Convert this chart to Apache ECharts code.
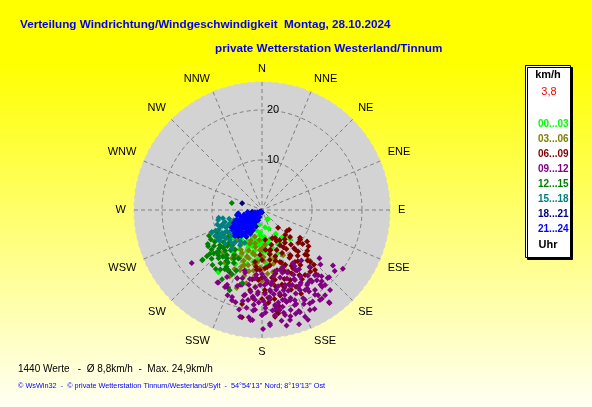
<!DOCTYPE html>
<html>
<head>
<meta charset="utf-8">
<script src="https://cdn.jsdelivr.net/npm/echarts@6/dist/echarts.min.js"></script>
<style>html,body{margin:0;padding:0;}#c{width:592px;height:407px;}</style>
</head>
<body>
<div id="c"></div>
<script>
// ---- data ----
const directions = ['N','NNE','NE','ENE','E','ESE','SE','SSE','S','SSW','SW','WSW','W','WNW','NW','NNW'];
const radiusTicks = [10, 20];
const seriesNames = ['00...03','03...06','06...09','09...12','12...15','15...18','18...21','21...24'];
const titleLine1 = 'Verteilung Windrichtung/Windgeschwindigkeit  Montag, 28.10.2024';
const titleLine2 = 'private Wetterstation Westerland/Tinnum';
const unitLabel = 'km/h';
const calmValue = '3,8';
const hourLabel = 'Uhr';
const statsText = '1440 Werte   -  Ø 8,8km/h  -  Max. 24,9km/h';
const footerText = '© WsWin32  -  © private Wetterstation Tinnum/Westerland/Sylt  -  54°54\'13\'\' Nord; 8°19\'13\'\' Ost';

// [speed km/h, direction deg]
const h00_03 = [[2.1,151],[5.4,178],[6.0,165],[15.2,215],[8.1,136],[5.5,150],[7.0,185],[7.5,195],[8.0,200],[6.5,190],[8.5,180],[9.0,192],[9.5,205],[10.0,198],[7.8,210],[6.8,205],[5.8,195],[4.5,185],[3.5,170],[4.0,160],[6.2,172],[7.2,175],[8.8,170],[9.8,185],[10.5,190],[11.0,200],[11.5,210],[12.0,206],[10.2,215],[8.6,220],[9.2,160],[7.6,155],[6.8,145],[10.8,175],[12.5,195],[13.0,215],[9.4,225],[11.8,220],[3.0,190],[4.8,205],[5.2,215],[6.0,225],
  [5.0,185],[5.6,200],[6.4,180],[7.0,195],[7.4,205],[8.2,190],[8.8,200],[9.0,210],[6.6,170],[7.8,165],[8.4,175],[9.6,180],[10.0,205],[10.6,185],[11.2,195],[7.2,215],[8.0,225],[6.2,212],[5.4,175],[4.2,195],[9.8,170],[6.0,155],[7.0,140],[8.6,150],
  [2.2,146],[5.7,151],[7.5,151]];
const h03_06 = [[13.6,137],[16.4,198],[11.7,222],[12.8,215],[9.1,189],[8.0,180],[10.0,195],[11.0,188],[12.0,200],[9.5,205],[10.5,210],[8.5,198],[7.5,190],[7.0,175],[9.0,170],[10.2,178],[11.5,182],[12.5,192],[13.0,205],[8.0,212],[6.5,200],[6.0,185],[11.0,168],[12.8,175],[14.0,188],[14.5,200],[10.8,200],[9.6,215],[7.8,220],[13.8,210],[12.0,160],[10.0,155],[5.5,195],[15.0,192],[11.4,194],
  [9.7,198],[8.0,183],[11.1,172],[12.8,200],[13.1,186],[8.8,192],[9.4,178],[10.4,185],[11.8,178],[12.2,188],[10.6,205],[11.4,212],[13.6,195],[14.2,180],[9.0,208],[7.2,200],[8.4,170],[10.0,165],[12.6,170],[15.4,185],[14.8,206],[11.6,198],[6.8,192],[7.6,180]];
const h06_09 = [[11.0,125],[7.8,134],[6.5,130],[6.7,126],[11.0,139],[20.9,171],[21.8,190.6],[18.0,172],[15.0,150],[16.0,138.5],[15.1,136.6],[15.7,142],[19.2,192],[17.7,186],[20.3,172],[19.5,170],[21.5,173],[6.0,160],[7.0,150],[8.0,145],[8.5,160],[9.0,170],[9.5,155],[10.0,140],[10.5,165],[11.0,150],[11.5,175],[12.0,158],[12.5,145],[13.0,168],[13.5,180],[14.0,155],[14.5,162],[15.0,140],[15.5,170],[16.0,150],[16.5,178],[17.0,160],[12.0,185],[10.0,180],[14.0,188],[8.0,175],[9.8,132],[12.8,135],[11.8,128],[16.8,140],[18.5,155],[19.0,165],[7.2,165],[9.2,148],[13.2,152],[15.8,160],[17.5,168],[14.8,172],[11.2,160],
  [7.9,152.8],[10.4,140],[11.9,157],[10.1,171],[13.4,145],[15.1,158],[14.2,169.5],[12.0,182],[16.0,178],[17.4,168],[15.6,146.5],[9.0,140],[8.6,150],[10.8,148],[11.6,142],[12.6,152],[13.0,160],[12.4,166],[11.2,172],[9.6,164],[8.2,168],[14.0,150],[13.6,138],[12.2,132],[10.6,130],[9.4,126],[14.6,176],[16.2,164],[18.6,176],[17.8,180],[16.8,156],[15.4,165],[7.4,142],[6.8,155],[11.4,186],[13.8,184],
  [6.0,174],[6.2,155],[6.8,137],[9.7,128],[9.0,182.5],[8.2,169],[10.6,148],[12.4,136],[11.0,161],[12.3,147.6],[14.2,137],[11.6,177],[13.4,157],[15.1,150],[13.7,171.6],[15.7,163],[14.0,183],[16.2,188.5],[17.6,176],[4.8,138],[10.5,187.7]];
const h09_12 = [[17.6,233],[20.0,126],[19.0,130],[19.0,135],[22.8,144],[25.7,163],[23.8,179.5],[22.1,186],[21.8,191.6],[18.4,202],[16.9,211],[18.4,199],[19.8,189],[20.9,151],[13.0,150],[13.5,158],[14.0,165],[14.5,172],[15.0,178],[15.5,185],[16.0,160],[16.5,152],[17.0,168],[17.5,175],[18.0,158],[18.5,182],[19.0,165],[19.5,172],[20.0,160],[20.5,178],[21.0,168],[14.0,148],[15.2,155],[16.2,170],[17.2,145],[18.2,150],[12.5,168],[13.0,185],[14.0,190],[15.5,195],[16.5,188],[17.5,192],[12.2,160],[13.5,178],[15.8,163],[16.8,178],[18.8,170],[19.5,155],[21.5,160],[20.2,185],[22.5,170],[14.8,140],[16.0,133],[17.8,138],[19.5,142],[15.0,130],[18.0,128],[12.8,142],[13.0,195],[14.5,200],[16.0,198],[17.0,155],[18.5,162],[20.0,148],[21.0,153],[23.0,158],[16.5,205],[14.0,208],[17.0,211.6],[17.1,205.7],[15.1,207.6],[17.0,203.5],[22.1,185],[18.9,136],[18.6,140],[16.8,141],[17.3,148],[20.4,146.6],[23.0,144],[17.5,149],[12.3,150],[12.5,163],
  [17.6,165],[17.7,154.6],[18.0,175],[17.0,145.6],[15.0,181.5],[20.8,164],[21.2,173],[18.0,184.5],[13.7,151],[19.0,142],[16.2,158],[17.0,162],[18.4,167],[19.2,160],[19.8,168],[20.2,174],[16.4,174],[15.6,168],[14.6,160],[15.4,150],[18.8,150],[19.6,178],[21.0,180],[22.0,165],[20.6,156],[16.8,183],[14.2,176],[13.4,170],[12.8,180],[15.2,190],[17.4,186],[18.6,192],[19.2,196],[16.0,145],[17.8,142],[21.4,146],[22.4,152],[24.0,162],[23.6,168],[22.8,176],[21.6,187],[20.4,193],[13.8,186],[12.6,196],[14.2,196],[17.0,172],[18.2,179],[19.0,185],[20.0,172],[21.8,162],[15.0,173],[16.6,165],[13.2,162],[14.4,154],
  [19.0,178],[20.3,170],[20.1,161],[19.9,154.5],[19.2,146.5],[19.6,140],[22.7,165.7],[23.1,176],[20.0,184],[17.3,191.3],[16.8,153],[18.6,165.7],[22.2,154.4],[21.4,147.2],
  [18.2,151.7],[17.5,145.2],[21.2,143.5],[18.9,162.7],[19.2,172.2],[21.0,180],[21.5,167.6],[21.8,159.6],[18.2,188.8],[15.6,196.3],[16.1,174.3],[17.2,139.3],[15.5,154.8],[16.4,182.8],[19.0,198.4],[23.8,157.3],[21.0,139.6]];
const h12_15 = [[6.2,283],[15.6,230],[10.7,241],[15.5,230],[12.3,227],[13.8,209],[11.9,216],[12.5,213],[11.0,222],[10.0,230],[10.5,235],[9.5,225],[12.0,233],[13.0,222],[11.5,228],[9.0,238],[13.5,218],[14.0,226],[12.8,238],[10.2,218],[11.2,210],[15.1,195],[17.3,202],[14.5,215],[13.2,203],[9.8,245],[11.8,244],[12.8,232],[14.8,222],[10.8,226],[8.5,232],[9.3,220],[16.0,210],[12.2,220],[13.6,230],[11.4,236],[10.6,212],[14.2,205],
  [11.0,230],[10.0,224],[12.6,224],[13.4,212],[12.0,208],[11.4,218],[10.4,238],[9.2,232],[13.0,236],[14.4,230],[11.8,240],[12.4,215],[10.8,206],[9.6,214],[15.0,218],[14.0,212],[13.0,228],[10.0,242],[11.0,246],[12.0,226]];
const h15_18 = [[9.0,257],[5.1,259],[9.8,239],[10.4,234],[7.4,246],[8.8,227],[8.3,212],[8.6,239],[5.0,223],[7.0,231],[6.0,250],[6.5,240],[7.8,236],[8.0,244],[9.2,232],[7.2,222],[6.2,228],[5.6,236],[8.4,250],[9.5,245],[7.6,215],[6.8,255],[5.8,245],[10.0,228],[9.0,222],[7.0,240],[8.0,230],[6.6,218],[4.6,248],[10.6,241],[9.4,252],[8.8,260],[11.0,246],[7.4,208],[9.8,218],
  [6.4,236],[7.2,244],[7.6,228],[8.2,238],[8.6,248],[9.2,240],[6.0,232],[5.4,242],[7.0,225],[8.4,220],[9.6,236],[10.2,246],[6.8,248],[7.8,252],[9.0,248],[5.6,228],[8.0,258],[10.6,236]];
const h18_21 = [[4.2,289],[2.0,260],[3.0,215],[4.0,210],[5.0,208],[5.5,215],[6.0,218],[4.5,222],[3.5,200],[6.5,220],[2.5,205],[1.5,200],[0.5,180],[5.8,235],[7.0,222],[6.2,210],[5.2,212],[4.6,205],[3.8,210]];
const h21_24 = [[0.3,220],[0.6,232],[0.9,214],[1.0,242],[1.2,226],[1.4,208],[1.6,236],[1.8,220],[2.0,248],[2.1,212],[2.3,230],[2.5,240],[2.6,220],[2.8,252],[3.0,228],[3.1,210],[3.3,244],[3.4,234],[3.5,221],[3.7,256],[3.8,230],[4.0,217],[4.0,247],[4.2,238],[4.3,225],[4.5,253],[4.6,232],[4.7,212],[4.9,243],[5.0,222],[5.1,258],[5.2,236],[5.4,228],[5.5,249],[5.6,216],[5.8,240],[5.9,231],[6.0,223],[6.2,245],[6.3,235],[6.5,227],[6.7,238],[6.9,231],[7.2,229],[7.5,226],[5.3,206],[4.4,204],[6.1,212],[3.6,207],[2.9,262],[4.8,262],[1.5,250],[2.2,200],[6.6,219],[7.0,240],
  [1.0,225],[2.4,225],[2.7,235],[3.2,218],[3.9,240],[4.1,230],[4.5,238],[4.8,228],[5.0,246],[5.3,232],[5.7,226],[6.1,234],[6.4,241],[6.8,226],[7.1,235],[3.0,250],[3.6,246],[4.4,216],[5.6,240],[2.0,236]];
const seriesData = [h00_03, h03_06, h06_09, h09_12, h12_15, h15_18, h18_21, h21_24];

// ---- styles ----
const seriesColors = ['#00ff00','#808000','#800000','#800080','#008000','#008080','#000080','#0000ff'];
const FF = '"Liberation Sans", Arial, sans-serif';
const POLAR_CENTER = [262, 210];
const POLAR_R = 128;

const chart = echarts.init(document.getElementById('c'), null, {renderer: 'canvas'});
const option = {
  animation: false,
  backgroundColor: {
    type: 'linear', x: 0, y: 0, x2: 0, y2: 1,
    colorStops: [{offset: 0, color: '#ffff00'}, {offset: 0.15, color: '#ffff00'}, {offset: 1, color: '#fffff4'}]
  },
  polar: [
    {center: POLAR_CENTER, radius: POLAR_R},
    {center: POLAR_CENTER, radius: POLAR_R}
  ],
  angleAxis: [
    {polarIndex: 0, type: 'value', min: 0, max: 360, interval: 22.5, startAngle: 90, z: 0,
      axisLine: {show: false}, axisTick: {show: false}, axisLabel: {show: false}, splitLine: {show: false}},
    {polarIndex: 1, type: 'value', min: 0, max: 360, interval: 22.5, startAngle: 90, clockwise: true, z: 2,
      axisLine: {show: false}, axisTick: {show: false},
      axisLabel: {margin: 8, color: '#000', fontSize: 11, fontFamily: FF,
        formatter: v => (v >= 360 ? '' : directions[Math.round(v / 22.5)])},
      splitLine: {show: true, lineStyle: {color: '#808080', width: 1, type: [4, 3]}}}
  ],
  radiusAxis: [
    {polarIndex: 0, type: 'value', min: 0, max: 25.6, interval: 10, z: 0,
      axisLine: {show: false}, axisTick: {show: false}, axisLabel: {show: false}, splitLine: {show: false},
      splitArea: {show: true, areaStyle: {color: ['#d3d3d3']}}},
    {polarIndex: 1, type: 'value', min: 0, max: 25.6, interval: 10, z: 2,
      axisLine: {show: false}, axisTick: {show: false},
      axisLabel: {margin: -5, align: 'left', verticalAlign: 'middle', color: '#000', fontSize: 11, fontFamily: FF,
        formatter: v => (radiusTicks.includes(v) ? String(v) : '')},
      splitLine: {show: true, lineStyle: {color: ['#808080','#808080','#808080','#d3d3d3'], width: 1, type: [4, 3]}},
      splitArea: {show: false}}
  ],
  legend: {
    orient: 'vertical', left: 528, top: 114, itemWidth: 0, itemHeight: 0, itemGap: 5, z: 10,
    selectedMode: false, icon: 'rect',
    textStyle: {fontFamily: FF, fontSize: 10, fontWeight: 'bold'},
    data: seriesNames.map((n, i) => ({name: n, textStyle: {color: seriesColors[i]}}))
  },
  graphic: [
    {type: 'text', x: 20, y: 25, z: 5, style: {text: titleLine1, font: 'bold 11.7px ' + FF, fill: '#0000ee', textVerticalAlign: 'middle'}},
    {type: 'text', x: 215, y: 49, z: 5, style: {text: titleLine2, font: 'bold 11.7px ' + FF, fill: '#0000ee', textVerticalAlign: 'middle'}},
    {type: 'rect', z: 1, shape: {x: 525.5, y: 65.5, width: 45, height: 192},
      style: {fill: '#ffffff', stroke: '#000', lineWidth: 1, shadowBlur: 0, shadowOffsetX: 2, shadowOffsetY: 2, shadowColor: '#000'}},
    {type: 'text', x: 548, y: 75, z: 5, style: {text: unitLabel, font: 'bold 11px ' + FF, fill: '#000', textAlign: 'center', textVerticalAlign: 'middle'}},
    {type: 'text', x: 549, y: 92, z: 5, style: {text: calmValue, font: '11px ' + FF, fill: '#ff0000', textAlign: 'center', textVerticalAlign: 'middle'}},
    {type: 'text', x: 548, y: 245, z: 5, style: {text: hourLabel, font: 'bold 11px ' + FF, fill: '#000', textAlign: 'center', textVerticalAlign: 'middle'}},
    {type: 'text', x: 18, y: 369, z: 5, style: {text: statsText, font: '10px ' + FF, fill: '#000', textVerticalAlign: 'middle'}},
    {type: 'text', x: 18, y: 386, z: 5, style: {text: footerText, font: '7.3px ' + FF, fill: '#0000ff', textVerticalAlign: 'middle'}}
  ],
  series: seriesNames.map((n, i) => ({
    name: n, type: 'scatter', coordinateSystem: 'polar', polarIndex: 1, z: 3,
    symbol: 'diamond', symbolSize: 6,
    itemStyle: {color: seriesColors[i], opacity: 1},
    emphasis: {disabled: true},
    data: seriesData[i]
  }))
};
chart.setOption(option);
</script>
</body>
</html>
